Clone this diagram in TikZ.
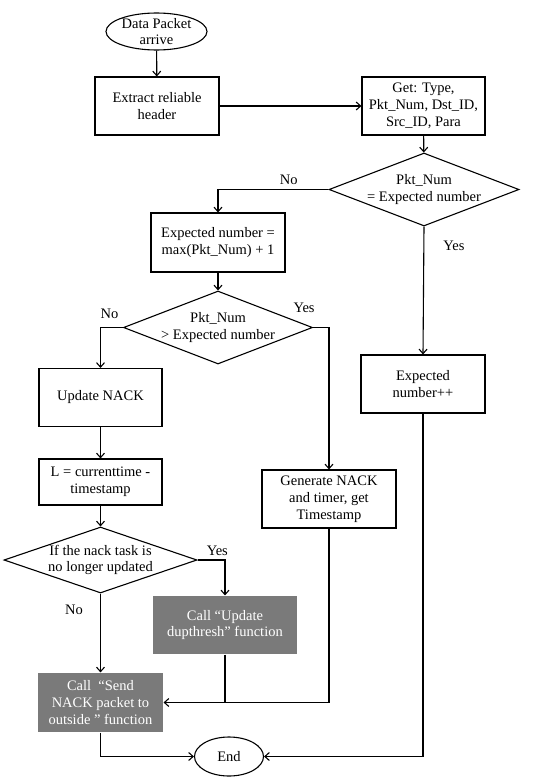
\documentclass[tikz,border=0pt]{standalone}
\usepackage{fontspec}
\setmainfont{Liberation Serif}
\usepackage{xcolor}
\usetikzlibrary{positioning,arrows.meta,shapes.geometric}
\definecolor{callgray}{HTML}{7A7A7A}

\begin{document}
\begin{tikzpicture}[x=1pt,y=-1pt,line width=1.1pt,
  font=\fontsize{14.5}{16.8}\selectfont,
  >={Straight Barb[length=4.5pt,width=8pt]},
  proc/.style={draw,rectangle,align=center,inner sep=2pt},
  call/.style={rectangle,fill=callgray,text=white,align=center,inner sep=2pt},
  dec/.style={draw,diamond,aspect=2.9,inner sep=-3pt,align=center},
  term/.style={draw,ellipse,inner xsep=-2pt,inner ysep=-4pt,align=center},
  lbl/.style={inner sep=1pt}]
  \useasboundingbox (0,0) rectangle (550,779);
  \node[term,minimum width=101pt,minimum height=37pt] (start) at (156.5,31.5) {Data Packet\\arrive};
  \node[proc,minimum width=124pt,minimum height=58pt] (extract) at (157,106) {Extract reliable\\header};
  \node[proc,minimum width=123pt,minimum height=58pt] (get) at (423.5,106) {Get: Type,\\Pkt\_Num, Dst\_ID,\\Src\_ID, Para};
  \node[dec,minimum width=190pt,minimum height=73pt] (chk1) at (424,189.5) {Pkt\_Num\\= Expected number};
  \node[proc,minimum width=134pt,minimum height=59pt] (setexp) at (218,242.5) {Expected number =\\max(Pkt\_Num) + 1};
  \node[proc,minimum width=124pt,minimum height=58pt] (incexp) at (423,384) {Expected\\number++};
  \node[dec,minimum width=189pt,minimum height=73pt] (chk2) at (218,327.5) {Pkt\_Num\\> Expected number};
  \node[proc,minimum width=123pt,minimum height=58pt] (upd) at (100.5,397.5) {Update NACK};
  \node[proc,minimum width=123pt,minimum height=46pt] (calc) at (100.5,482) {L = currenttime -\\timestamp};
  \node[proc,minimum width=134pt,minimum height=58pt] (gen) at (329,499) {Generate NACK\\and timer, get\\Timestamp};
  \node[dec,minimum width=193pt,minimum height=66pt] (chk3) at (100.5,560) {If the nack task is\\no longer updated};
  \node[call,minimum width=144pt,minimum height=58pt] (dup) at (225,625) {Call “Update\\dupthresh” function};
  \node[call,minimum width=125pt,minimum height=59pt] (send) at (100.5,702.5) {Call \ “Send\\NACK packet to\\outside ” function};
  \node[term,minimum width=69pt,minimum height=39pt] (end) at (229,756.5) {End};

  \draw[->] (start) -- (extract);
  \draw[->] (extract) -- (get);
  \draw[->] (get) -- (chk1);
  \draw[->] (chk1.west) -| (setexp.north) node[lbl,pos=0.18,above=3pt] {No};
  \draw[->] (chk1.south) -- (incexp.north) node[lbl,pos=0.15,right=18pt] {Yes};
  \draw[->] (setexp) -- (chk2);
  \draw[->] (chk2.west) -| (upd.north) node[lbl,pos=0.3,above=7pt] {No};
  \draw[->] (chk2.east) -| (gen.north) node[lbl,pos=0,above=13pt,xshift=-9pt] {Yes};
  \draw[->] (upd) -- (calc);
  \draw[->] (calc) -- (chk3);
  \draw[->] (chk3.east) -| (dup.north) node[lbl,pos=0.36,above=3pt] {Yes};
  \draw[->] (chk3.south) -- (send.north) node[lbl,pos=0.21,left=16pt] {No};
  \draw[->] (gen.south) |- (send.east);
  \draw (dup.south) -- (dup.south |- send.east);
  \draw[->] (send.south) |- (end.west);
  \draw[->] (incexp.south) |- (end.east);
\end{tikzpicture}
\end{document}
